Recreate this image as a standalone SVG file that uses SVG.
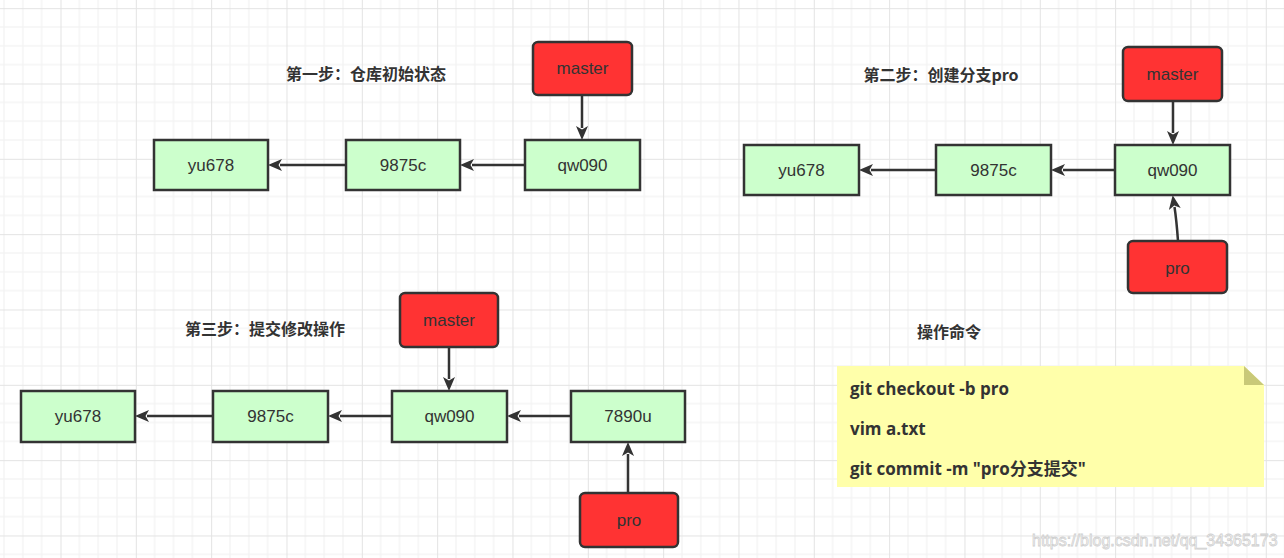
<svg xmlns="http://www.w3.org/2000/svg" width="1284" height="558" viewBox="0 0 1284 558">
<defs>
<pattern id="grid" patternUnits="userSpaceOnUse" x="60.5" y="83.5" width="75.33" height="75.33">
<g stroke="#f0f0f0" stroke-width="1">
<line x1="18.83" y1="0" x2="18.83" y2="75.33"/><line x1="37.67" y1="0" x2="37.67" y2="75.33"/><line x1="56.5" y1="0" x2="56.5" y2="75.33"/>
<line x1="0" y1="18.83" x2="75.33" y2="18.83"/><line x1="0" y1="37.67" x2="75.33" y2="37.67"/><line x1="0" y1="56.5" x2="75.33" y2="56.5"/>
</g>
<g stroke="#e3e3e3" stroke-width="1"><line x1="0.5" y1="0" x2="0.5" y2="75.33"/><line x1="0" y1="0.5" x2="75.33" y2="0.5"/></g>
</pattern>
<marker id="arr" markerUnits="userSpaceOnUse" markerWidth="14" markerHeight="12" refX="2" refY="6" orient="auto" viewBox="0 0 14 12">
<path d="M0,0 L14,6 L0,12 L3.5,6 Z" fill="#333"/>
</marker>
<style>
.commit{fill:#ccffcc;stroke:#333;stroke-width:2.5}
.ref{fill:#ff3333;stroke:#333;stroke-width:2.5}
.lbl{font-family:"Liberation Sans","Noto Sans CJK SC",sans-serif;font-size:17px;fill:#333;text-anchor:middle;dominant-baseline:central}
.title{font-family:"Noto Sans CJK SC",sans-serif;font-size:16px;font-weight:bold;fill:#333;text-anchor:middle;dominant-baseline:central}
.note{font-family:"Open Sans","Noto Sans CJK SC",sans-serif;font-size:17px;font-weight:bold;fill:#333;dominant-baseline:central}
.edge{fill:none;stroke:#333;stroke-width:2.5;marker-end:url(#arr)}
</style>
</defs>
<rect width="1284" height="558" fill="#fff"/>
<rect width="1284" height="558" fill="url(#grid)"/>

<text class="title" x="366" y="73">第一步：仓库初始状态</text>
<text class="title" x="941" y="74">第二步：创建分支pro</text>
<text class="title" x="265" y="328">第三步：提交修改操作</text>
<text class="title" x="949" y="331" font-weight="500">操作命令</text>

<g id="connectors">
<line class="edge" x1="346" y1="165" x2="280" y2="165"/>
<line class="edge" x1="525" y1="165" x2="472" y2="165"/>
<line class="edge" x1="582" y1="95" x2="582" y2="128"/>
<line class="edge" x1="936" y1="170" x2="871" y2="170"/>
<line class="edge" x1="1115" y1="170" x2="1063" y2="170"/>
<line class="edge" x1="1173" y1="101" x2="1173" y2="133"/>
<path class="edge" d="M1178,241 Q1176.5,220 1174.5,207"/>
<line class="edge" x1="213" y1="416" x2="147" y2="416"/>
<line class="edge" x1="392" y1="416" x2="340" y2="416"/>
<line class="edge" x1="571" y1="416" x2="519" y2="416"/>
<line class="edge" x1="449" y1="347" x2="449" y2="379"/>
<line class="edge" x1="628" y1="493" x2="628" y2="454"/>
</g>

<g id="s1-master"><rect class="ref" x="533" y="42" width="99" height="53" rx="5"/><text class="lbl" x="582.5" y="68.5">master</text></g>
<g id="s1-yu678"><rect class="commit" x="154" y="140" width="114" height="50"/><text class="lbl" x="211" y="165">yu678</text></g>
<g id="s1-9875c"><rect class="commit" x="346" y="140" width="114" height="50"/><text class="lbl" x="403" y="165">9875c</text></g>
<g id="s1-qw090"><rect class="commit" x="525" y="140" width="115" height="50"/><text class="lbl" x="582.5" y="165">qw090</text></g>

<g id="s2-master"><rect class="ref" x="1123" y="47" width="99" height="54" rx="5"/><text class="lbl" x="1172.5" y="74">master</text></g>
<g id="s2-yu678"><rect class="commit" x="744" y="145" width="115" height="50"/><text class="lbl" x="801.5" y="170">yu678</text></g>
<g id="s2-9875c"><rect class="commit" x="936" y="145" width="115" height="50"/><text class="lbl" x="993.5" y="170">9875c</text></g>
<g id="s2-qw090"><rect class="commit" x="1115" y="145" width="115" height="50"/><text class="lbl" x="1172.5" y="170">qw090</text></g>
<g id="s2-pro"><rect class="ref" x="1128" y="241" width="99" height="52" rx="5"/><text class="lbl" x="1177.5" y="268">pro</text></g>

<g id="s3-master"><rect class="ref" x="400" y="293" width="98" height="54" rx="5"/><text class="lbl" x="449" y="320">master</text></g>
<g id="s3-yu678"><rect class="commit" x="21" y="391" width="114" height="51"/><text class="lbl" x="78" y="416.5">yu678</text></g>
<g id="s3-9875c"><rect class="commit" x="213" y="391" width="115" height="51"/><text class="lbl" x="270.5" y="416.5">9875c</text></g>
<g id="s3-qw090"><rect class="commit" x="392" y="391" width="115" height="51"/><text class="lbl" x="449.5" y="416.5">qw090</text></g>
<g id="s3-7890u"><rect class="commit" x="571" y="391" width="114" height="51"/><text class="lbl" x="628" y="416.5">7890u</text></g>
<g id="s3-pro"><rect class="ref" x="580" y="493" width="98" height="54" rx="5"/><text class="lbl" x="629" y="520">pro</text></g>

<g id="note">
<path d="M837,366 H1244 L1264,385 V487 H837 Z" fill="#ffffaa"/>
<path d="M1244,366 L1264,385 H1244 Z" fill="#c9c978"/>
<text class="note" x="850" y="388">git checkout -b pro</text>
<text class="note" x="850" y="428">vim a.txt</text>
<text class="note" x="850" y="468">git commit -m "pro分支提交"</text>
</g>

<text x="1032" y="540" font-family="Liberation Sans,sans-serif" font-size="16" fill="#fff" stroke="#cfcfcf" stroke-width="0.8" dominant-baseline="central">https://blog.csdn.net/qq_34365173</text>
</svg>
